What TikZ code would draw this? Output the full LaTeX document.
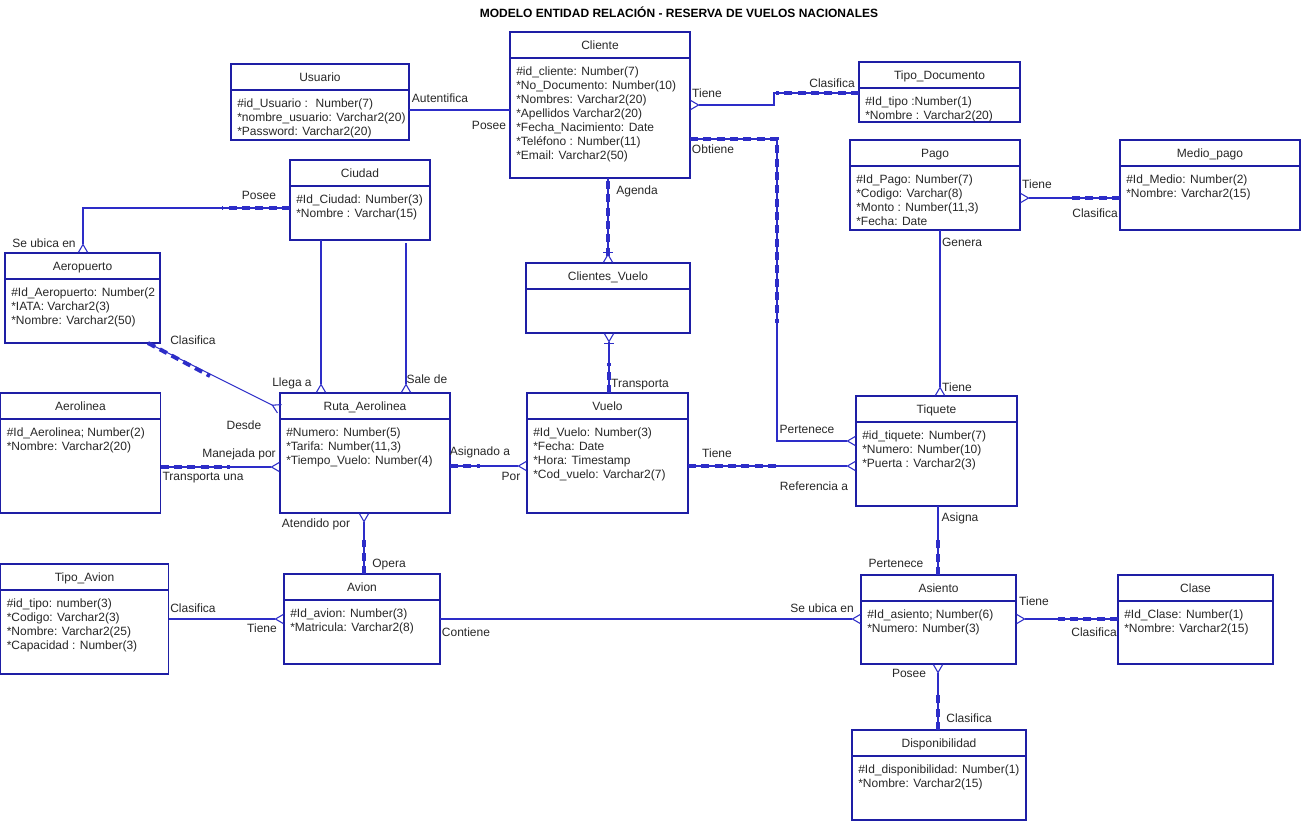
\documentclass[tikz,border=0pt]{standalone}
\usepackage{fontspec}
\setmainfont{Liberation Sans}
\usetikzlibrary{arrows.meta,calc}

\definecolor{azul}{RGB}{30,30,165}
\definecolor{linea}{RGB}{45,45,200}
\definecolor{texto}{RGB}{40,40,40}

% entidad: nombre, x izq, y sup, ancho, alto, titulo, atributos
\newcommand{\entidad}[7]{%
  \node[entidad, minimum width=#4*0.75pt, minimum height=#5*0.75pt] (#1) at (#2,#3) {};
  \draw[azul, line width=0.9pt] ($(#1.north west)+(0,26)$) -- ($(#1.north east)+(0,26)$);
  \node[titulo] (#1-titulo) at ($(#1.north)+(0,13)$) {#6};
  \node[atributos] (#1-atributos) at ($(#1.north west)+(6,34.5)$) {#7};
}

\begin{document}
\begin{tikzpicture}[x=0.75pt, y=-0.75pt,
    entidad/.style={draw=azul, line width=0.9pt, fill=white, anchor=north west, inner sep=0pt, outer sep=0pt},
    titulo/.style={font=\fontsize{9}{10.5}\selectfont, text=texto, text height=1.5ex, text depth=.25ex, inner sep=0pt},
    atributos/.style={font=\fontsize{9}{10.5}\selectfont, text=texto, align=left, anchor=north west, inner sep=0pt},
    etiqueta/.style={font=\fontsize{9}{10.5}\selectfont, text=texto, text height=1.5ex, text depth=.25ex, inner sep=0pt},
    conector/.style={draw=linea, line width=0.8pt},
    guion/.style={draw=linea, line width=3pt, line cap=butt, dash pattern=on 6pt off 4pt},
    muchos/.style={-{Straight Barb[reversed, length=6pt, width=7pt]}},
    unomuchos/.style={-{Bar[width=7pt] Straight Barb[reversed, length=6pt, width=7pt]}}]

    \fill[white] (0,0) rectangle (1301,822);
    \useasboundingbox (0,0) rectangle (1301,822);

    \node[font=\bfseries\fontsize{9}{10.5}\selectfont] (titulo) at (679,12) {MODELO ENTIDAD RELACIÓN - RESERVA DE VUELOS NACIONALES};

    % Define entidades
    \entidad{usuario}{231}{64}{178}{76}{Usuario}{\#id\_Usuario :~ Number(7)\\*nombre\_usuario: Varchar2(20)\\*Password: Varchar2(20)}
    \entidad{cliente}{510}{32}{180}{146}{Cliente}{\#id\_cliente: Number(7)\\*No\_Documento: Number(10)\\*Nombres: Varchar2(20)\\*Apellidos Varchar2(20)\\*Fecha\_Nacimiento: Date\\*Teléfono : Number(11)\\*Email: Varchar2(50)}
    \entidad{tipodoc}{859}{62}{161}{60}{Tipo\_Documento}{\#Id\_tipo :Number(1)\\*Nombre : Varchar2(20)}
    \entidad{ciudad}{290}{160}{140}{80}{Ciudad}{\#Id\_Ciudad: Number(3)\\*Nombre : Varchar(15)}
    \entidad{aeropuerto}{5}{253}{155}{90}{Aeropuerto}{\#Id\_Aeropuerto: Number(2\\*IATA: Varchar2(3)\\*Nombre: Varchar2(50)}
    \entidad{pago}{850}{140}{170}{90}{Pago}{\#Id\_Pago: Number(7)\\*Codigo: Varchar(8)\\*Monto : Number(11,3)\\*Fecha: Date}
    \entidad{mediopago}{1120}{140}{180}{90}{Medio\_pago}{\#Id\_Medio: Number(2)\\*Nombre: Varchar2(15)}
    \entidad{clientesvuelo}{526}{263}{164}{70}{Clientes\_Vuelo}{}
    \entidad{aerolinea}{0.5}{393}{160}{120}{Aerolinea}{\#Id\_Aerolinea; Number(2)\\*Nombre: Varchar2(20)}
    \entidad{ruta}{280}{393}{170}{120}{Ruta\_Aerolinea}{\#Numero: Number(5)\\*Tarifa: Number(11,3)\\*Tiempo\_Vuelo: Number(4)}
    \entidad{vuelo}{527}{393}{161}{120}{Vuelo}{\#Id\_Vuelo: Number(3)\\*Fecha: Date\\*Hora: Timestamp\\*Cod\_vuelo: Varchar2(7)}
    \entidad{tiquete}{856}{396}{161}{110}{Tiquete}{\#id\_tiquete: Number(7)\\*Numero: Number(10)\\*Puerta : Varchar2(3)}
    \entidad{tipoavion}{0.5}{564}{168}{110}{Tipo\_Avion}{\#id\_tipo: number(3)\\*Codigo: Varchar2(3)\\*Nombre: Varchar2(25)\\*Capacidad : Number(3)}
    \entidad{avion}{284}{574}{156}{90}{Avion}{\#Id\_avion: Number(3)\\*Matricula: Varchar2(8)}
    \entidad{asiento}{861}{575}{155}{89}{Asiento}{\#Id\_asiento; Number(6)\\*Numero: Number(3)}
    \entidad{clase}{1118}{575}{155}{89}{Clase}{\#Id\_Clase: Number(1)\\*Nombre: Varchar2(15)}
    \entidad{disponibilidad}{852}{730}{174}{90}{Disponibilidad}{\#Id\_disponibilidad: Number(1)\\*Nombre: Varchar2(15)}

    % Relaciones
    \draw[conector] (usuario.east |- 0,110) -- (cliente.west |- 0,110);
    \draw[conector, muchos] (tipodoc.west |- 0,93) -| ++(-85,12) -- (cliente.east |- 0,105);
    \draw[guion] (tipodoc.west |- 0,93) -- ++(-83,0);
    \draw[conector, muchos] (cliente.east |- 0,139) -| (777,441) -- (tiquete.west |- 0,441);
    \draw[guion] (cliente.east |- 0,139) -| (777,323);
    \draw[conector, unomuchos] (cliente.south -| 608,0) -- (clientesvuelo.north -| 608,0);
    \draw[guion] (608,181) -- (608,258);
    \draw[conector, unomuchos] (vuelo.north -| 609,0) -- (clientesvuelo.south -| 609,0);
    \draw[guion] (vuelo.north -| 609,0) -- (609,363);
    \draw[conector, muchos] (ciudad.west |- 0,208) -| (aeropuerto.north -| 83,0);
    \draw[guion] (ciudad.west |- 0,208) -- (222,208);
    \draw[conector, muchos] (ciudad.south -| 321,0) -- (ruta.north -| 321,0);
    \draw[conector, muchos] (406,243) -- (ruta.north -| 406,0);
    \draw[conector, muchos] (aeropuerto.south -| 148,0) -- (ruta.west |- 0,409);
    \draw[guion] (aeropuerto.south -| 148,0) -- (210,376);
    \draw[conector, muchos] (aerolinea.east |- 0,467) -- (ruta.west |- 0,467);
    \draw[guion] (aerolinea.east |- 0,467) -- (230,467);
    \draw[conector, muchos] (ruta.east |- 0,466) -- (vuelo.west |- 0,466);
    \draw[guion] (ruta.east |- 0,466) -- (480,466);
    \draw[conector, muchos] (vuelo.east |- 0,466) -- (tiquete.west |- 0,466);
    \draw[guion] (vuelo.east |- 0,466) -- (780,466);
    \draw[conector, muchos] (mediopago.west |- 0,198) -- (pago.east |- 0,198);
    \draw[guion] (mediopago.west |- 0,198) -- (1070,198);
    \draw[conector, muchos] (pago.south -| 940,0) -- (tiquete.north -| 940,0);
    \draw[conector, muchos] (avion.north -| 364,0) -- (ruta.south -| 364,0);
    \draw[guion] (avion.north -| 364,0) -- (364,540);
    \draw[conector, muchos] (tipoavion.east |- 0,619) -- (avion.west |- 0,619);
    \draw[conector, muchos] (avion.east |- 0,619) -- (asiento.west |- 0,619);
    \draw[conector] (tiquete.south -| 938,0) -- (asiento.north -| 938,0);
    \draw[guion] (asiento.north -| 938,0) -- (938,537);
    \draw[conector, muchos] (clase.west |- 0,619) -- (asiento.east |- 0,619);
    \draw[guion] (clase.west |- 0,619) -- (1058,619);
    \draw[conector, muchos] (disponibilidad.north -| 938,0) -- (asiento.south -| 938,0);
    \draw[guion] (disponibilidad.north -| 938,0) -- (938,692);

    % Etiquetas de las relaciones
    \foreach \nombre/\pos/\texto in {
        autentifica/{440,98}/Autentifica, posee-a/{489,125}/Posee,
        tiene-a/{707,93}/Tiene, clasifica-a/{832,83}/Clasifica,
        obtiene/{713,149}/Obtiene, agenda/{637,190}/Agenda,
        posee-b/{259,195}/Posee, ubica-a/{44,243}/Se ubica en,
        clasifica-b/{193,340}/Clasifica, llega/{292,382}/Llega a,
        sale/{427,379}/Sale de, transporta/{640,383}/Transporta,
        tiene-b/{1037,184}/Tiene, clasifica-c/{1095,213}/Clasifica,
        genera/{962,242}/Genera, tiene-c/{957,387}/Tiene,
        desde/{244,425}/Desde, pertenece-a/{807,429}/Pertenece,
        manejada/{239,453}/Manejada por, asignado/{480,451}/Asignado a,
        tiene-d/{717,453}/Tiene, transportauna/{203,476}/Transporta una,
        por/{511,476}/Por, referencia/{814,486}/Referencia a,
        atendido/{316,523}/Atendido por, asigna/{960,517}/Asigna,
        opera/{389,563}/Opera, pertenece-b/{896,563}/Pertenece,
        clasifica-d/{193,608}/Clasifica, ubica-b/{822,608}/Se ubica en,
        tiene-e/{1034,601}/Tiene, tiene-f/{262,628}/Tiene,
        contiene/{466,632}/Contiene, clasifica-e/{1094,632}/Clasifica,
        posee-c/{909,673}/Posee, clasifica-f/{969,718}/Clasifica}
      \node[etiqueta] (\nombre) at (\pos) {\texto};
\end{tikzpicture}
\end{document}
